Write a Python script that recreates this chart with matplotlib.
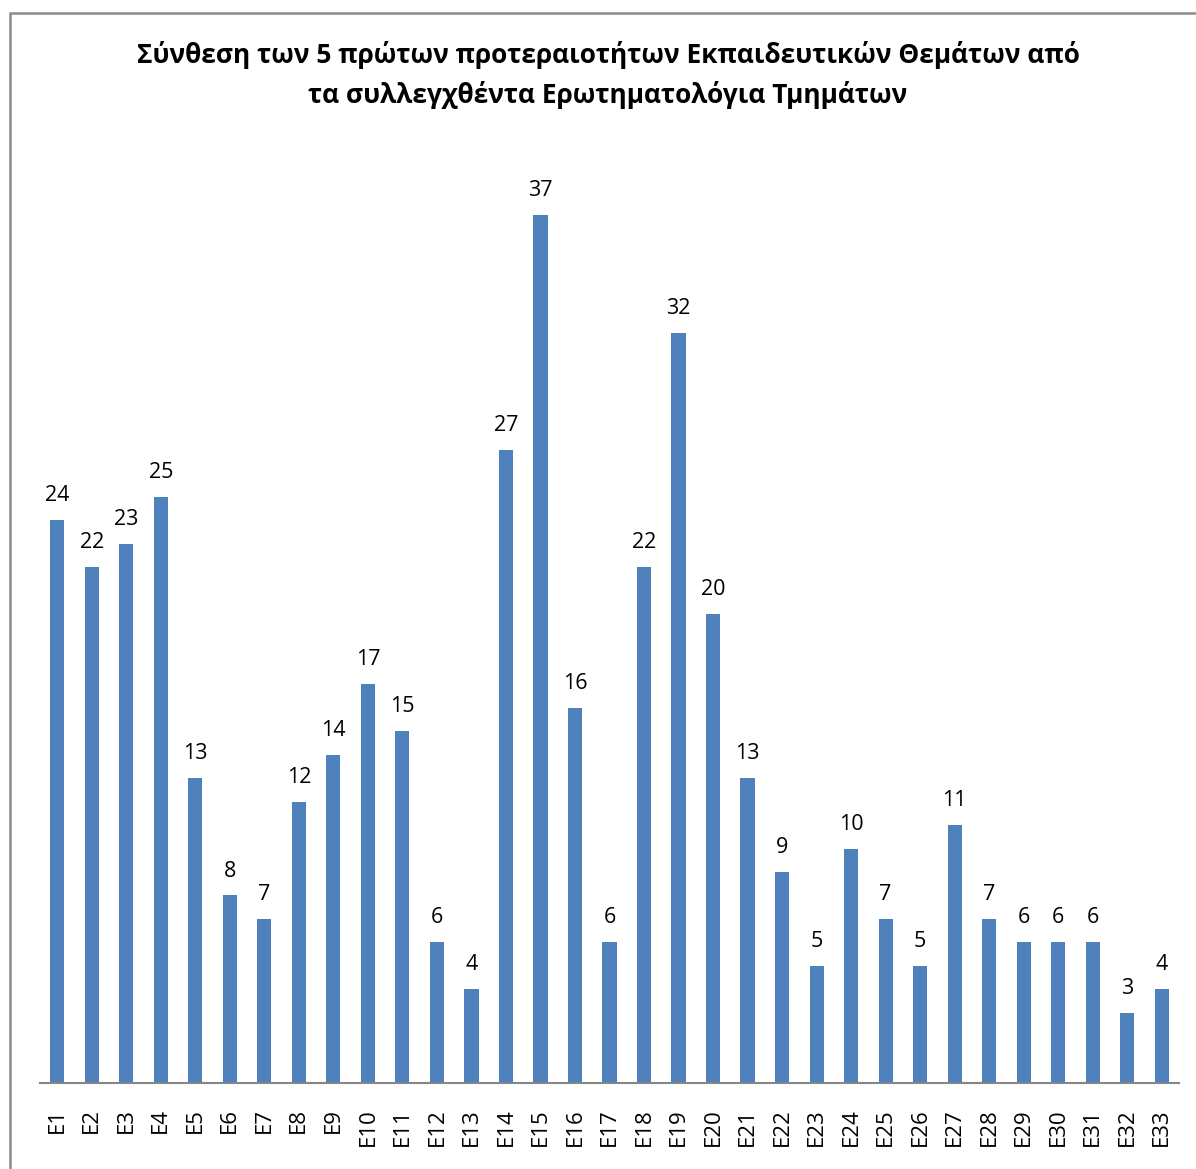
import matplotlib
matplotlib.use("Agg")
import matplotlib.pyplot as plt
from matplotlib.patches import Rectangle

categories = [f"E{i}" for i in range(1, 34)]
values = [24, 22, 23, 25, 13, 8, 7, 12, 14, 17, 15, 6, 4, 27, 37, 16, 6, 22, 32, 20,
          13, 9, 5, 10, 7, 5, 11, 7, 6, 6, 6, 3, 4]
title = ("Σύνθεση των 5 πρώτων προτεραιοτήτων Εκπαιδευτικών Θεμάτων από\n"
         "τα συλλεγχθέντα Ερωτηματολόγια Τμημάτων")

plt.rcParams['font.family'] = ['Open Sans', 'DejaVu Sans']

W, H = 1196, 1169
fig = plt.figure(figsize=(W / 100, H / 100), dpi=100)

# outer chart border
fig.patches.append(Rectangle((10 / W, 0 - 0.01), 1.02, (H - 13) / H + 0.01,
                             transform=fig.transFigure, fill=False,
                             edgecolor='#8c8c8c', linewidth=1.8))

ax = fig.add_axes([40 / W, 86 / H, (1179 - 40) / W, (1083 - 145) / H])
x = list(range(len(categories)))
bars = ax.bar(x, values, width=0.41, color='#4F81BD')
ax.set_xlim(-0.5, len(categories) - 0.5)
ax.set_ylim(0, 40)
ax.set_xticks(x)
ax.set_xticklabels(categories, rotation=90, fontsize=16)
ax.tick_params(axis='x', length=0, pad=18)
ax.set_yticks([])
for s in ['top', 'right', 'left']:
    ax.spines[s].set_visible(False)
ax.spines['bottom'].set_color('#868686')
ax.spines['bottom'].set_linewidth(1.5)

for xi, v in zip(x, values):
    ax.annotate(str(v), (xi, v), xytext=(0, 10), textcoords='offset points',
                ha='center', va='bottom', fontsize=15.5)

fig.text(608 / W, 1 - 75 / H, title, ha='center', va='center', fontsize=18.9,
         fontweight='bold', linespacing=1.56)

fig.savefig("out.png", dpi=100)
